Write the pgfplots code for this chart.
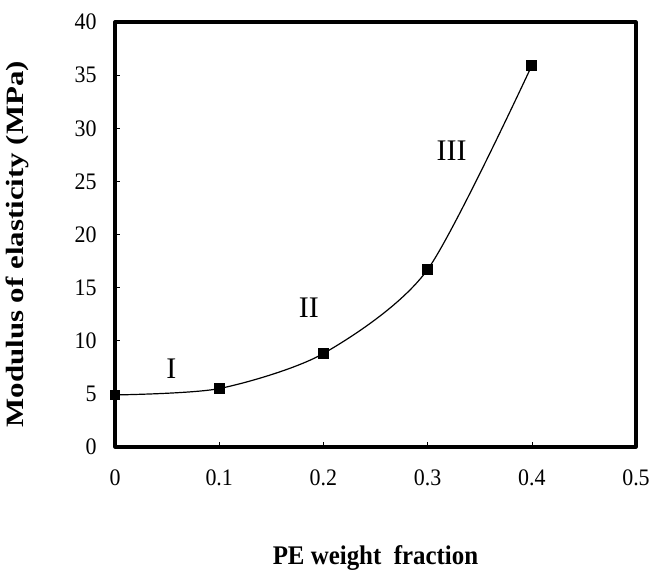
\documentclass[border=0pt]{standalone}
\usepackage{fontspec}
\setmainfont{Liberation Serif}
\usepackage{graphicx}
\usepackage{pgfplots}
\pgfplotsset{compat=1.18}

\pgfplotstableread{
x    E
0.0  4.9
0.1  5.5
0.2  8.8
0.3  16.7
0.4  35.9
}\modulus

\begin{document}
\begin{tikzpicture}
\begin{axis}[
  name=main,
  scale only axis,
  width=521bp, height=425bp,
  xmin=0, xmax=0.5, ymin=0, ymax=40,
  xtick={0,0.1,...,0.5},
  ytick={0,5,...,40},
  xticklabels={0,0.1,0.2,0.3,0.4,0.5},
  tick align=inside,
  xtick pos=bottom, ytick pos=left,
  major tick length=5bp,
  tick style={black, line width=0.6bp},
  /pgf/number format/assume math mode=true,
  ticklabel style={font=\fontsize{22}{26}\selectfont, yscale=1.08},
  xticklabel style={yshift=-18bp},
  yticklabel style={xshift=-15bp},
  label style={font=\fontsize{25}{30}\selectfont\bfseries},
  xlabel={\scalebox{1}[1.08]{PE weight\ \ fraction}},
  ylabel={\scalebox{1.24}[1]{Modulus of elasticity (MPa)}},
  xlabel style={at={(axis description cs:0.5,-0.261)}, anchor=center},
  ylabel style={at={(axis description cs:-0.188,0.477)}, anchor=center},
  clip=false,
]
\addplot[black, line width=1.2bp, smooth, tension=0.45, mark=square*, mark size=4.8bp,
  mark options={solid, fill=black}] table[x=x, y=E] {\modulus};
\node[font=\fontsize{30}{34}\selectfont] at (axis cs:0.054,7.4) {I};
\node[font=\fontsize{30}{34}\selectfont] at (axis cs:0.186,13.1) {II};
\node[font=\fontsize{30}{34}\selectfont] at (axis cs:0.323,27.9) {III};
% heavy frame around the plot area
\draw[black, line width=3.2bp, line join=round]
  (rel axis cs:0,0) rectangle (rel axis cs:1,1);
\end{axis}
\path (main.south west) ++(-115bp,-132bp) rectangle ++(669bp,579bp);
\end{tikzpicture}
\end{document}
